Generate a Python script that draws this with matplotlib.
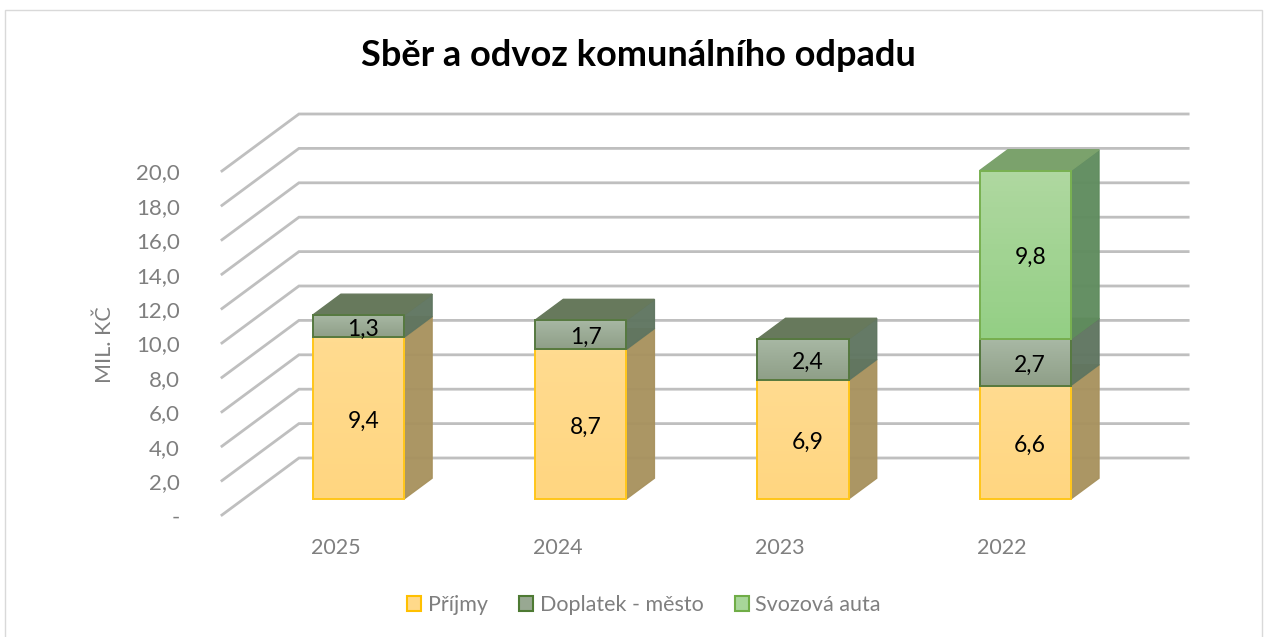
import numpy as np
import matplotlib
matplotlib.use('Agg')
import matplotlib.pyplot as plt
from matplotlib.colors import LinearSegmentedColormap
from matplotlib.patches import Patch, Polygon, Rectangle

years = ['2025', '2024', '2023', '2022']
prijmy = [9.4, 8.7, 6.9, 6.6]
doplatek = [1.3, 1.7, 2.4, 2.7]
svozova = [0, 0, 0, 9.8]
y_ticks = [0, 2, 4, 6, 8, 10, 12, 14, 16, 18, 20]

GRID = '#BFBFBF'
TEXT = '#7F7F7F'
FONT = ['Lato', 'DejaVu Sans']

# pixel scale of the front plane, the whole figure is one axes
W, H = 1269, 637
PX_X = 222.3
PX_Y = 17.2
X0, Y0 = 333.1, 515
DEPTH_X = 77 / PX_X
DEPTH_Y = 57 / PX_Y
BAR_HALF = 0.205
BAR_NEAR = 0.28
BAR_FAR = 0.645
BAR_SHIFT = 0.017

# front gradient (top, bottom), edge, side, top face
STYLES = {
    'prijmy': (('#FFDB90', '#FFD680'), '#FFC61A', '#A8925E', '#B09A60'),
    'doplatek': (('#A8B8A4', '#8F9F88'), '#55783F', '#5F7560', '#67795C'),
    'svozova': (('#AFD8A0', '#94CF85'), '#78B050', '#5F8C5E', '#7BA26C'),
}

plt.rcParams['font.family'] = FONT
fig = plt.figure(figsize=(W / 100, H / 100), dpi=100)
ax = fig.add_axes([0, 0, 1, 1])
ax.axis('off')


def draw_segment(pos, bottom, value, style):
    (c_top, c_bot), edge, side, top = STYLES[style]
    x0 = pos + BAR_SHIFT - BAR_HALF + BAR_NEAR * DEPTH_X
    x1 = pos + BAR_SHIFT + BAR_HALF + BAR_NEAR * DEPTH_X
    y0 = bottom + BAR_NEAR * DEPTH_Y
    y1 = y0 + value
    dx = (BAR_FAR - BAR_NEAR) * DEPTH_X
    dy = (BAR_FAR - BAR_NEAR) * DEPTH_Y
    ax.add_patch(Polygon([(x1, y0), (x1 + dx, y0 + dy), (x1 + dx, y1 + dy), (x1, y1)],
                         facecolor=side, edgecolor=side, lw=1, alpha=0.96, zorder=3))
    ax.add_patch(Polygon([(x0, y1), (x1, y1), (x1 + dx, y1 + dy), (x0 + dx, y1 + dy)],
                         facecolor=top, edgecolor=top, lw=1, zorder=3))
    cmap = LinearSegmentedColormap.from_list(style, [c_bot, c_top])
    ax.imshow(np.linspace(1, 0, 32).reshape(-1, 1), cmap=cmap, extent=(x0, x1, y0, y1),
              aspect='auto', zorder=4, vmin=0, vmax=1)
    ax.add_patch(Rectangle((x0, y0), x1 - x0, value, fill=False, edgecolor=edge, lw=1.4, zorder=5))
    ax.text((x0 + x1) / 2 + 0.022, (y0 + y1) / 2 - 0.17, f'{value:.1f}'.replace('.', ','),
            ha='center', va='center', fontsize=16.5, color='black', zorder=6)


# grid lines: floor/wall diagonal then the back wall
for t in y_ticks:
    ax.plot([-0.5, -0.5 + DEPTH_X, 3.5 + DEPTH_X], [t, t + DEPTH_Y, t + DEPTH_Y],
            color=GRID, lw=2, solid_joinstyle='miter', zorder=1)
    label = '-' if t == 0 else f'{t:.1f}'.replace('.', ',')
    ax.text(-0.69, t - 0.15, label, ha='right', va='center', fontsize=16, color=TEXT)

for i, year in enumerate(years):
    draw_segment(i, 0, prijmy[i], 'prijmy')
    draw_segment(i, prijmy[i], doplatek[i], 'doplatek')
    if svozova[i] > 0:
        draw_segment(i, prijmy[i] + doplatek[i], svozova[i], 'svozova')
    ax.text(i + 0.01, -1.9, year, ha='center', va='center', fontsize=15.5, color=TEXT)

ax.set_xlim(-X0 / PX_X, (W - X0) / PX_X)
ax.set_ylim(-(H - Y0) / PX_Y, Y0 / PX_Y)

fig.text(105 / W, 1 - 345 / H, 'MIL. KČ', rotation=90, ha='center', va='center',
         fontsize=15.5, color=TEXT)
fig.text(638.5 / W, 1 - 55 / H, 'Sběr a odvoz komunálního odpadu', ha='center', va='center',
         fontsize=26, fontweight='bold', color='black')

handles = [
    Patch(facecolor='#FFD98A', edgecolor='#FFC000', lw=1.5, label='Příjmy'),
    Patch(facecolor='#98A892', edgecolor='#4E7A33', lw=1.5, label='Doplatek - město'),
    Patch(facecolor='#A8D69A', edgecolor='#70AD47', lw=1.5, label='Svozová auta'),
]
fig.legend(handles=handles, loc='center', bbox_to_anchor=(644 / W, 1 - 605 / H), ncol=3,
           frameon=False, fontsize=15.5, labelcolor=TEXT, handlelength=0.65, handleheight=0.65,
           handletextpad=0.3, columnspacing=1.45)

# chart border
fig.add_artist(Rectangle((5 / W, -0.01), (1262 - 5) / W, 1 - 10 / H + 0.01, fill=False,
                         edgecolor='#D9D9D9', lw=1, transform=fig.transFigure))

fig.savefig('out.png', dpi=100)
